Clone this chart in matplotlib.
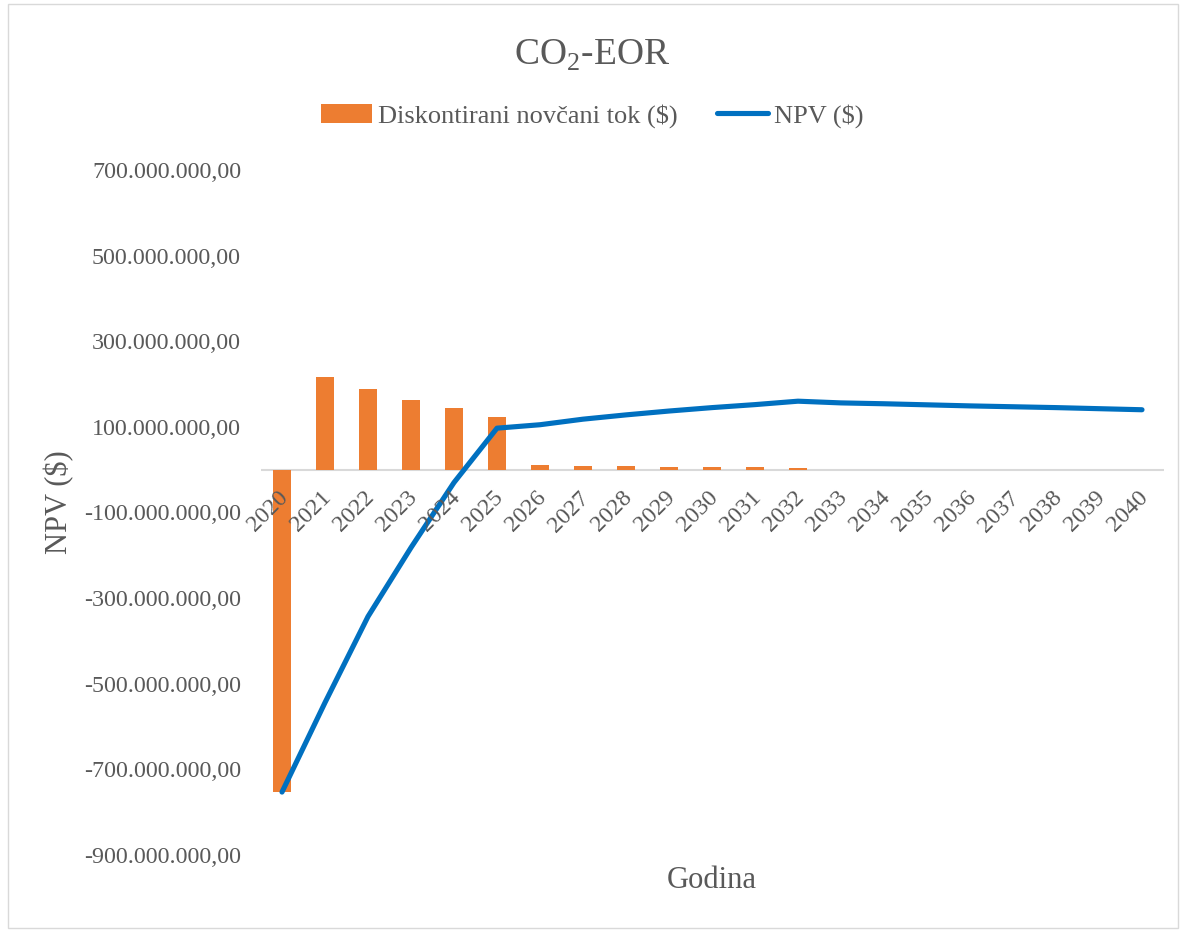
import matplotlib
matplotlib.use("Agg")
import matplotlib.pyplot as plt
from matplotlib.patches import Rectangle
from matplotlib.ticker import FuncFormatter, FixedLocator

# Data (millions of $)
years = [str(y) for y in range(2020, 2041)]
cash_flow = [-753, 217, 189, 163, 143, 124, 10, 9, 8, 7, 6.5, 6, 4,
             -1.5, -1.5, -1.5, -1, -1, -0.5, -0.5, -0.5]
npv = [-753, -544, -343, -182, -30, 97, 105, 118, 128, 137, 145, 152, 160,
       156, 154, 151.5, 149, 147, 145, 142.5, 140]
y_ticks = [700, 500, 300, 100, -100, -300, -500, -700, -900]

ORANGE = "#ED7D31"
BLUE = "#0070C0"
GREY_TXT = "#595959"
GREY_LINE = "#D9D9D9"

plt.rcParams['font.family'] = ['Liberation Serif', 'DejaVu Serif']
plt.rcParams['mathtext.fontset'] = 'custom'
plt.rcParams['mathtext.rm'] = 'Liberation Serif'

W, H = 1184, 930
fig = plt.figure(figsize=(W / 100, H / 100), dpi=100)
ax = fig.add_axes([260.5 / W, 1 - 855 / H, 903 / W, (855 - 170) / H])

x = list(range(len(years)))
bars = ax.bar(x, cash_flow, width=0.4, color=ORANGE, zorder=2,
              label="Diskontirani novčani tok ($)")
line, = ax.plot(x, npv, color=BLUE, lw=3.7, solid_capstyle='round',
                solid_joinstyle='round', zorder=3, label="NPV ($)")

ax.set_xlim(-0.5, len(years) - 0.5)
ax.set_ylim(-900, 700)
ax.axhline(0, color=GREY_LINE, lw=1.5, zorder=1)

for s in ax.spines.values():
    s.set_visible(False)

ax.yaxis.set_major_locator(FixedLocator(y_ticks))
ax.yaxis.set_major_formatter(FuncFormatter(
    lambda v, p: "{:,.2f}".format(v * 1e6).replace(",", " ").replace(".", ",").replace(" ", ".")))
ax.tick_params(axis='y', length=0, pad=14, labelsize=17.3, labelcolor=GREY_TXT)
ax.set_xticks([])

# rotated category labels hanging below the zero line
for i, yr in enumerate(years):
    ax.annotate(yr, xy=(i, 0), xytext=(2, -18), textcoords='offset points',
                rotation=45, ha='right', va='center', rotation_mode='anchor',
                fontsize=17.3, color=GREY_TXT)

fig.text(0.5, 1 - 55 / H, r"CO$_\mathrm{2}$-EOR", ha='center', va='center',
         fontsize=27, color=GREY_TXT)
fig.legend(handles=[bars, line], loc='center', ncol=2,
           bbox_to_anchor=(0.5, 1 - 116 / H), frameon=False, fontsize=19,
           labelcolor=GREY_TXT, handlelength=1.95, handletextpad=0.2,
           columnspacing=1.5)
fig.text(59 / W, 1 - 502 / H, "NPV ($)", rotation=90, ha='center', va='center',
         fontsize=22, color=GREY_TXT)
fig.text(712 / W, 1 - 880 / H, "Godina", ha='center', va='center',
         fontsize=22, color=GREY_TXT)

# chart area border
fig.patches.append(Rectangle((8 / W, 2 / H), (1178 - 8) / W, (926 - 2) / H,
                             transform=fig.transFigure, fill=False,
                             edgecolor=GREY_LINE, lw=1))

fig.savefig("out.png", dpi=100)
